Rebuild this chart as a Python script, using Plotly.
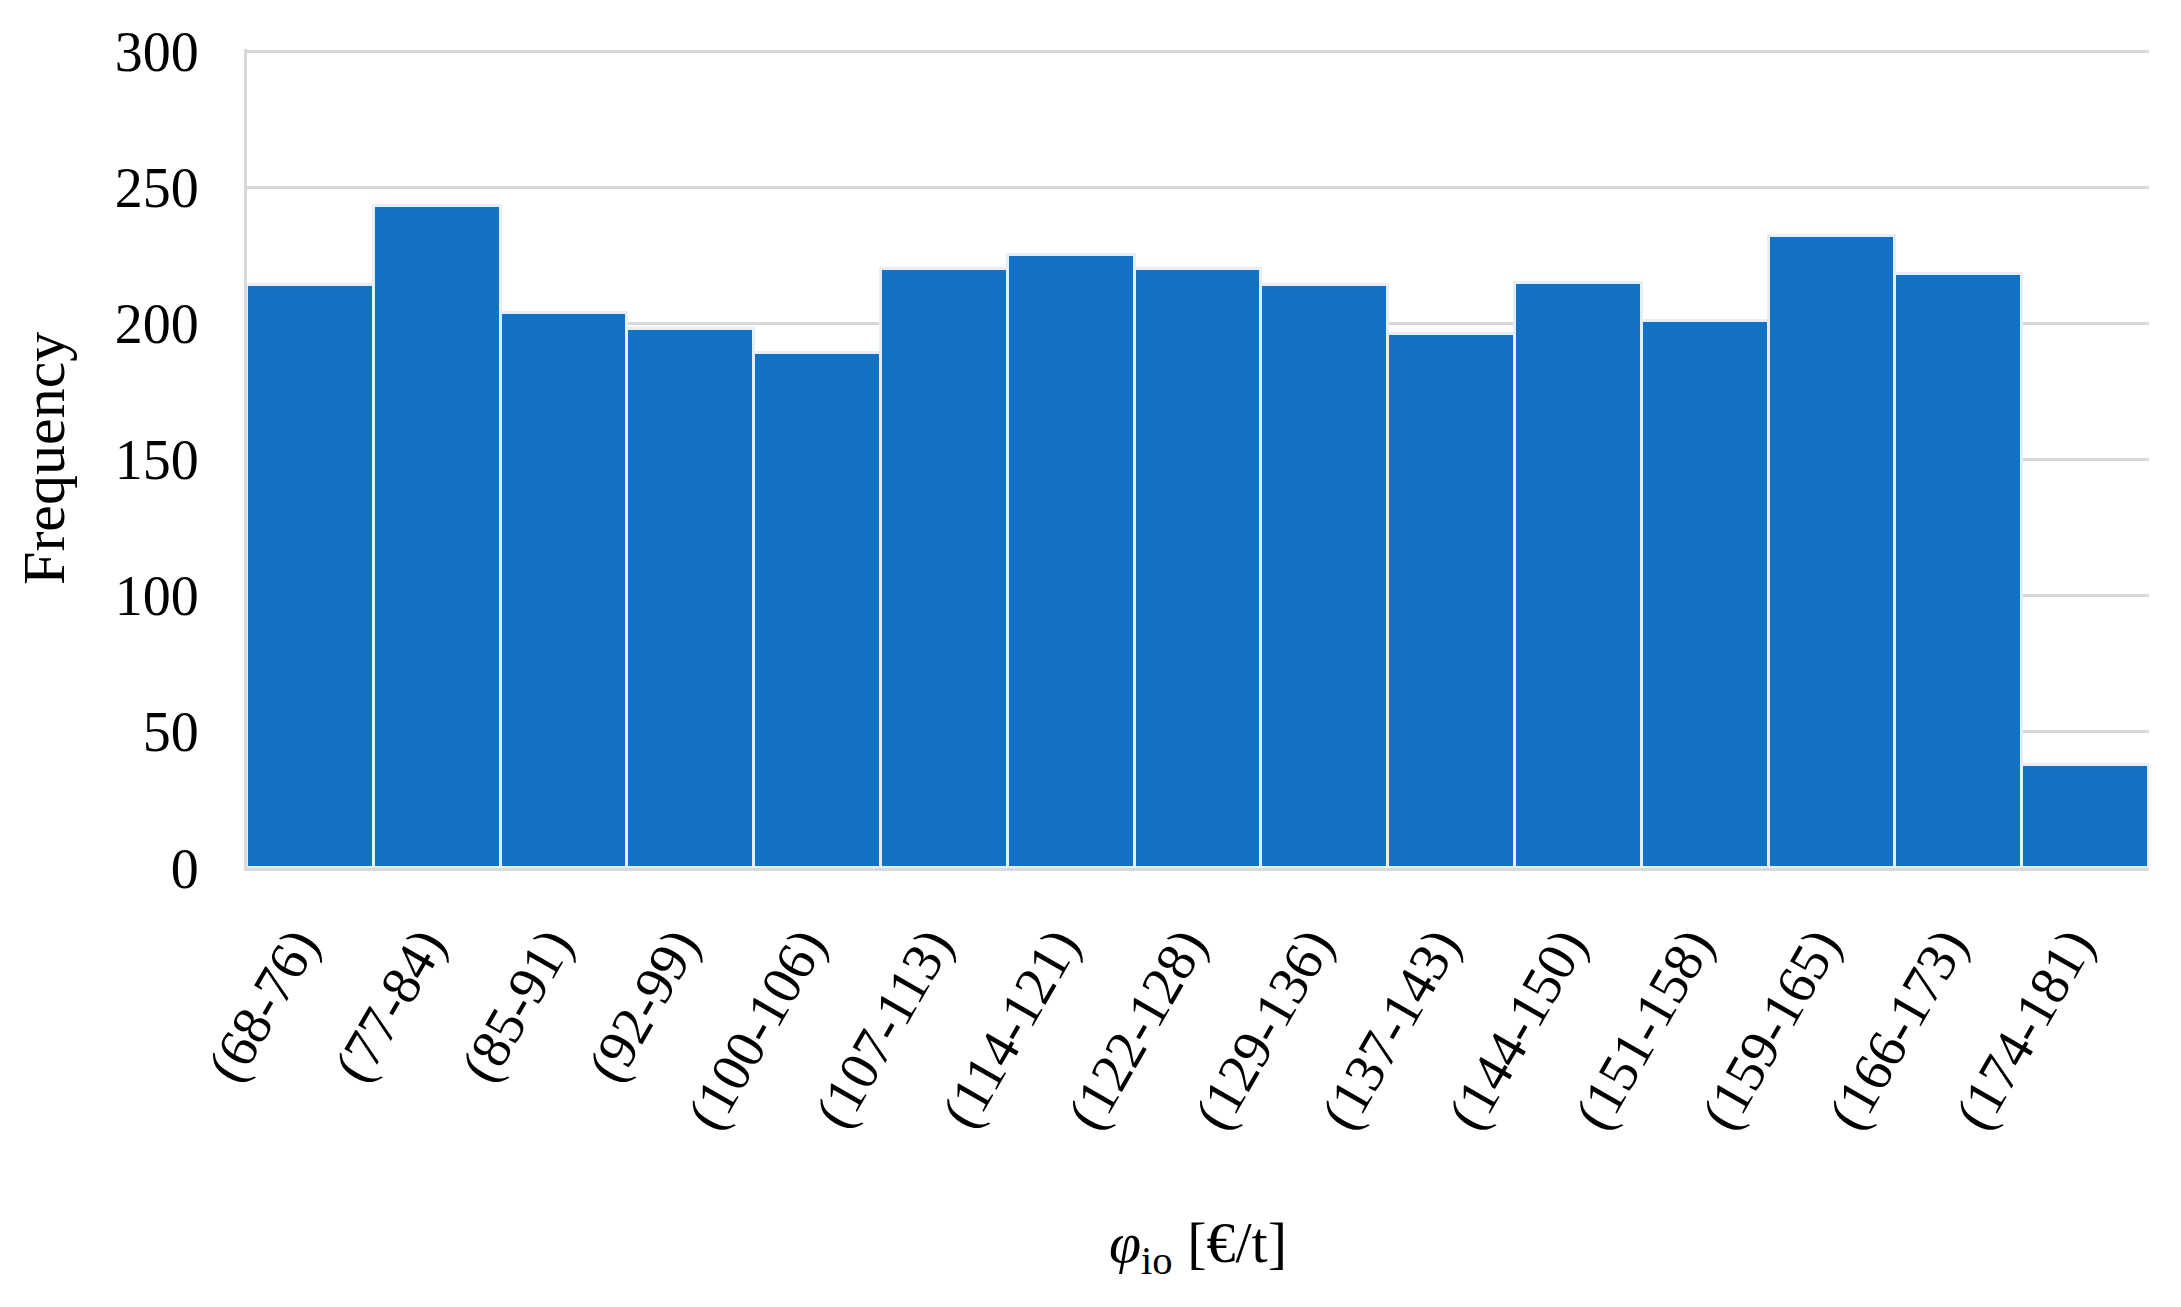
import plotly.graph_objects as go

categories = ["(68-76)", "(77-84)", "(85-91)", "(92-99)", "(100-106)", "(107-113)",
              "(114-121)", "(122-128)", "(129-136)", "(137-143)", "(144-150)",
              "(151-158)", "(159-165)", "(166-173)", "(174-181)"]
frequency = [214, 243, 204, 198, 189, 220, 225, 220, 214, 196, 215, 201, 232, 218, 38]
y_ticks = [0, 50, 100, 150, 200, 250, 300]

FONT = "Liberation Serif"
BAR = "#1371C6"

fig = go.Figure()
fig.add_trace(go.Bar(
    x=categories, y=frequency,
    marker=dict(color=BAR, line=dict(color="#E6EEF8", width=3)),
))

fig.update_layout(
    width=2181, height=1307,
    margin=dict(l=239, r=40, t=41, b=447),
    paper_bgcolor="white", plot_bgcolor="white",
    bargap=0, showlegend=False,
    font=dict(family=FONT, color="black", size=54),
    annotations=[
        dict(text="<i>φ</i><sub>io</sub> [€/t]", xref="paper", yref="paper",
             x=0.5, y=-0.462, xanchor="center", yanchor="middle",
             showarrow=False, font=dict(family=FONT, size=58)),
        dict(text="Frequency", xref="paper", yref="paper",
             x=-0.107, y=0.5, xanchor="center", yanchor="middle", textangle=-90,
             showarrow=False, font=dict(family=FONT, size=60)),
    ],
)
fig.update_xaxes(
    type="category", tickangle=-60, ticks="", showgrid=False,
    showline=True, linecolor="#D9D9D9", linewidth=3,
    tickfont=dict(family=FONT, size=55), ticklabelstandoff=20, ticklabelshift=-14,
)
fig.update_yaxes(
    range=[0, 300.8], tickvals=y_ticks, ticks="",
    showgrid=True, gridcolor="#D9D9D9", gridwidth=3,
    showline=True, linecolor="#D9D9D9", linewidth=3,
    zeroline=False, tickfont=dict(family=FONT, size=56), ticklabelstandoff=34,
)

fig.write_html("out.html")
